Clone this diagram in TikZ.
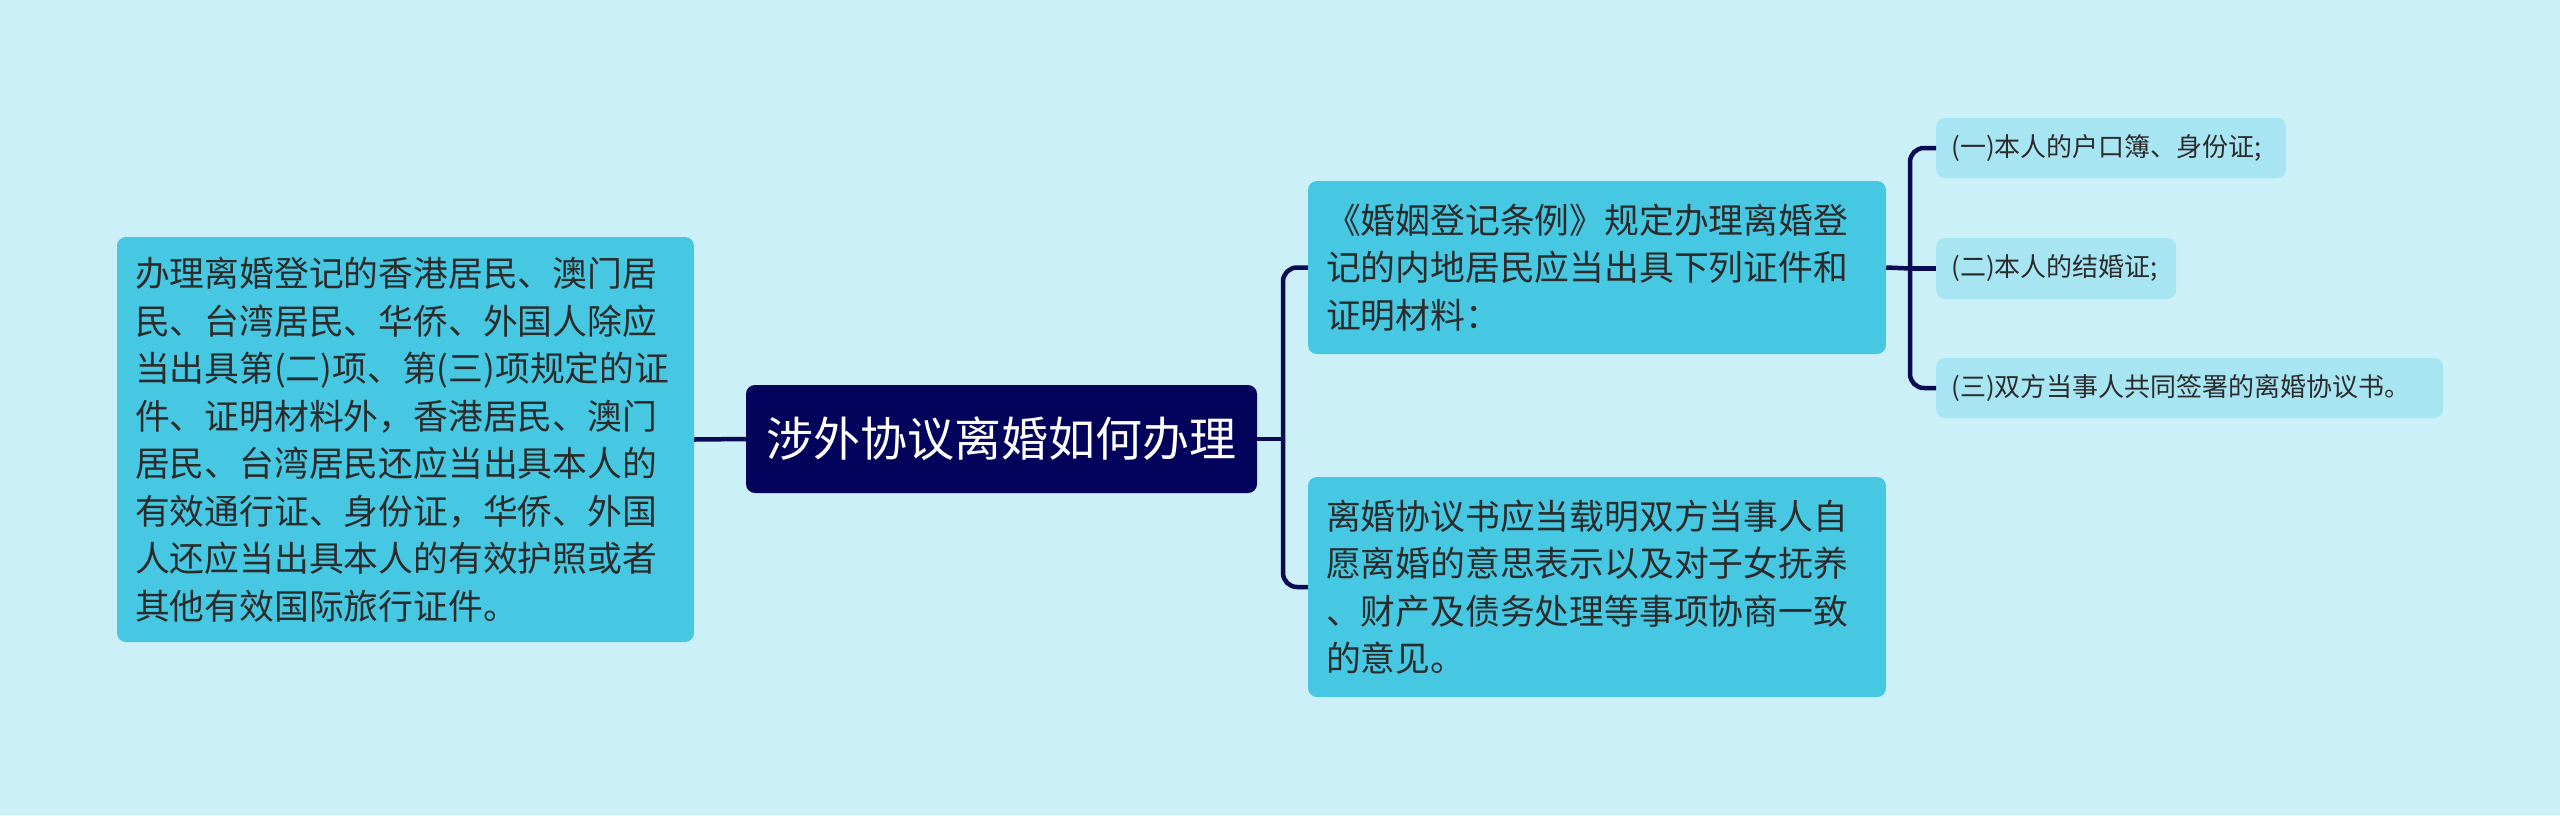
\documentclass[tikz,border=0pt]{standalone}
\usepackage{fontspec}
\setmainfont{Noto Sans CJK SC}
\definecolor{bg}{HTML}{CBF0F7}
\definecolor{mainbox}{HTML}{46C8E3}
\definecolor{leafbox}{HTML}{A8E5F3}
\definecolor{rootbox}{HTML}{03035B}
\definecolor{conncol}{HTML}{0B0B55}
\definecolor{txt}{HTML}{2B2B2B}
\begin{document}
\begin{tikzpicture}[x=1pt,y=-1pt,
  mainnode/.style={fill=mainbox, rounded corners=9pt, inner xsep=18pt, inner ysep=0pt,
    align=left, text=txt, font=\fontsize{34.8}{47.5}\selectfont},
  leafnode/.style={fill=leafbox, rounded corners=9pt, inner xsep=15pt, inner ysep=0pt,
    align=left, text=txt, font=\fontsize{26}{32}\selectfont, anchor=west},
  rootnode/.style={fill=rootbox, rounded corners=9pt, inner sep=0pt, text=white,
    font=\fontsize{47}{56}\selectfont},
  conn/.style={draw=conncol, line width=4.5pt, rounded corners=14pt}
]
\fill[bg] (0,0) rectangle (2560,815);
\useasboundingbox (0,0) rectangle (2560,815);

\node[rootnode, minimum width=511pt, minimum height=108pt] (root) at (1001.5,439) {涉外协议离婚如何办理};

\node[mainnode, text width=541pt, minimum height=405pt] (left) at (405.5,439.5)
{办理离婚登记的香港居民、澳门居\\民、台湾居民、华侨、外国人除应\\当出具第(二)项、第(三)项规定的证\\件、证明材料外，香港居民、澳门\\居民、台湾居民还应当出具本人的\\有效通行证、身份证，华侨、外国\\人还应当出具本人的有效护照或者\\其他有效国际旅行证件。};

\node[mainnode, text width=542pt, minimum height=173pt] (tr) at (1597,267.5)
{《婚姻登记条例》规定办理离婚登\\记的内地居民应当出具下列证件和\\证明材料：};

\node[mainnode, text width=542pt, minimum height=220pt] (br) at (1597,587)
{离婚协议书应当载明双方当事人自\\愿离婚的意思表示以及对子女抚养\\、财产及债务处理等事项协商一致\\的意见。};

\node[leafnode, text width=320pt, minimum height=60pt] (l1) at (1936,148) {(一)本人的户口簿、身份证;};
\node[leafnode, text width=210pt, minimum height=61pt] (l2) at (1936,268.5) {(二)本人的结婚证;};
\node[leafnode, text width=477pt, minimum height=60pt] (l3) at (1936,388) {(三)双方当事人共同签署的离婚协议书。};

\coordinate (t1) at (1283,439);
\coordinate (t2) at (1910,268.5);

\draw[conn] (left.east) -- (root.west);
\draw[conn] (root.east) -- (t1);
\draw[conn] (t1) |- (tr.west);
\draw[conn] (t1) |- (br.west);
\draw[conn] (tr.east) -- (t2);
\draw[conn] (t2) |- (l1.west);
\draw[conn] (t2) -- (l2.west);
\draw[conn] (t2) |- (l3.west);
\end{tikzpicture}
\end{document}
